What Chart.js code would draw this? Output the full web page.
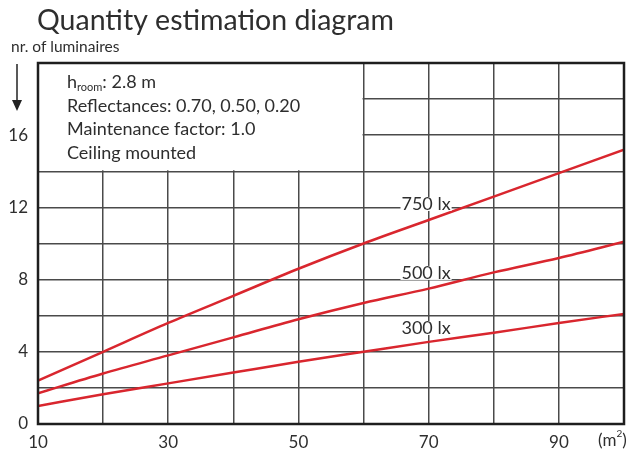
<!DOCTYPE html>
<html>
<head>
<meta charset="utf-8">
<script src="https://cdn.jsdelivr.net/npm/chart.js@4"></script>
<style>
  html, body { margin: 0; padding: 0; background: #fff; }
  #wrap { width: 632px; height: 455px; position: relative; }
</style>
</head>
<body>
<div id="wrap"><canvas id="qtyChart"></canvas></div>
<script>
// room area (m2)
const areas = [10, 20, 30, 40, 50, 60, 70, 80, 90, 100];
// number of luminaires per illuminance level
const lux750 = [2.4, 4.0, 5.6, 7.1, 8.6, 10.0, 11.3, 12.6, 13.9, 15.2];
const lux500 = [1.7, 2.8, 3.8, 4.8, 5.8, 6.7, 7.5, 8.4, 9.2, 10.1];
const lux300 = [1.0, 1.65, 2.25, 2.85, 3.45, 4.0, 4.55, 5.05, 5.6, 6.1];
const seriesNames = ['750 lx', '500 lx', '300 lx'];
const yTickLabels = [0, 4, 8, 12, 16];
const xTickLabels = [10, 30, 50, 70, 90];
const infoLines = ['2.8 m', 'Reflectances: 0.70, 0.50, 0.20', 'Maintenance factor: 1.0', 'Ceiling mounted'];

const FONT = 'Lato, "Open Sans", sans-serif';
const TXT = '#2e2e2e';
const RED = '#d9262e';

function toPts(ys) {
  return ys.map((y, i) => ({ x: areas[i], y: y }));
}

// white box in the top-left corner that hides the grid behind the notes
const noteBox = {
  id: 'noteBox',
  beforeDatasetsDraw(chart) {
    const { ctx, scales: { x, y } } = chart;
    ctx.save();
    ctx.fillStyle = '#fff';
    ctx.fillRect(x.getPixelForValue(10), y.getPixelForValue(20), x.getPixelForValue(60) - x.getPixelForValue(10) - 1, y.getPixelForValue(14) - y.getPixelForValue(20) - 1);
    ctx.restore();
  }
};

const extras = {
  id: 'extras',
  afterDraw(chart) {
    const { ctx, chartArea: a, scales: { x, y } } = chart;
    ctx.save();
    // frame
    ctx.strokeStyle = '#1e1e1e';
    ctx.lineWidth = 2.5;
    ctx.strokeRect(a.left, a.top, a.right - a.left, a.bottom - a.top);

    // title
    ctx.fillStyle = TXT;
    ctx.textBaseline = 'alphabetic';
    ctx.textAlign = 'left';
    ctx.font = '28.5px ' + FONT;
    ctx.fillText('Quantity estimation diagram', 37, 30);
    ctx.font = '15.5px ' + FONT;
    ctx.fillText('nr. of luminaires', 11, 52);

    // down arrow
    ctx.strokeStyle = '#222';
    ctx.lineWidth = 1.5;
    ctx.beginPath();
    ctx.moveTo(17, 64);
    ctx.lineTo(17, 104);
    ctx.stroke();
    ctx.fillStyle = '#222';
    ctx.beginPath();
    ctx.moveTo(12, 100);
    ctx.lineTo(22, 100);
    ctx.lineTo(17, 111);
    ctx.closePath();
    ctx.fill();

    // notes
    ctx.fillStyle = TXT;
    ctx.font = '18px ' + FONT;
    const nx = 67;
    ctx.fillText('h', nx, 88);
    const hw = ctx.measureText('h').width;
    ctx.font = '11px ' + FONT;
    ctx.fillText('room', nx + hw, 91);
    const rw = ctx.measureText('room').width;
    ctx.font = '18px ' + FONT;
    ctx.fillText(': ' + infoLines[0], nx + hw + rw, 88);
    for (let i = 1; i < infoLines.length; i++) {
      ctx.fillText(infoLines[i], nx, 88 + i * 23.7);
    }

    // series labels
    ctx.font = '18px ' + FONT;
    ctx.textAlign = 'center';
    ctx.textBaseline = 'middle';
    const labelY = [12.19, 8.37, 5.32];
    seriesNames.forEach((s, i) => {
      const px = x.getPixelForValue(69.6);
      const py = y.getPixelForValue(labelY[i]);
      const w = ctx.measureText(s).width;
      ctx.fillStyle = '#fff';
      ctx.fillRect(px - w / 2 - 1, py - 7, w + 2, 14);
      ctx.fillStyle = TXT;
      ctx.fillText(s, px, py);
    });

    // unit
    ctx.textAlign = 'left';
    ctx.textBaseline = 'middle';
    ctx.font = '17px ' + FONT;
    ctx.fillText('(m', 598, 441);
    const mw = ctx.measureText('(m').width;
    ctx.font = '10px ' + FONT;
    ctx.fillText('2', 598 + mw, 434);
    const sw = ctx.measureText('2').width;
    ctx.font = '17px ' + FONT;
    ctx.fillText(')', 598 + mw + sw, 441);
    ctx.restore();
  }
};

const mkSet = (label, ys) => ({
  label: label,
  data: toPts(ys),
  borderColor: RED,
  borderWidth: 2.5,
  pointRadius: 0,
  cubicInterpolationMode: 'monotone',
  fill: false
});

new Chart(document.getElementById('qtyChart'), {
  type: 'line',
  data: {
    datasets: [mkSet(seriesNames[0], lux750), mkSet(seriesNames[1], lux500), mkSet(seriesNames[2], lux300)]
  },
  options: {
    responsive: true,
    maintainAspectRatio: false,
    animation: false,
    layout: { padding: { top: 63, right: 3, left: 0, bottom: 0 } },
    plugins: { legend: { display: false }, tooltip: { enabled: false }, title: { display: false } },
    scales: {
      x: {
        type: 'linear',
        min: 10,
        max: 100,
        border: { display: false },
        grid: { color: '#4a4a4a', lineWidth: 1.5, drawTicks: false },
        ticks: {
          stepSize: 10,
          padding: 8,
          color: TXT,
          font: { family: FONT, size: 17 },
          maxRotation: 0,
          callback: v => xTickLabels.includes(v) ? String(v) : ''
        },
        afterFit: s => { s.height = 31; }
      },
      y: {
        min: 0,
        max: 20,
        border: { display: false },
        grid: { color: '#4a4a4a', lineWidth: 1.5, drawTicks: false },
        ticks: {
          stepSize: 2,
          padding: 10,
          color: TXT,
          font: { family: FONT, size: 17 },
          callback: v => yTickLabels.includes(v) ? String(v) : ''
        },
        afterFit: s => { s.width = 38; }
      }
    }
  },
  plugins: [noteBox, extras]
});
</script>
</body>
</html>
